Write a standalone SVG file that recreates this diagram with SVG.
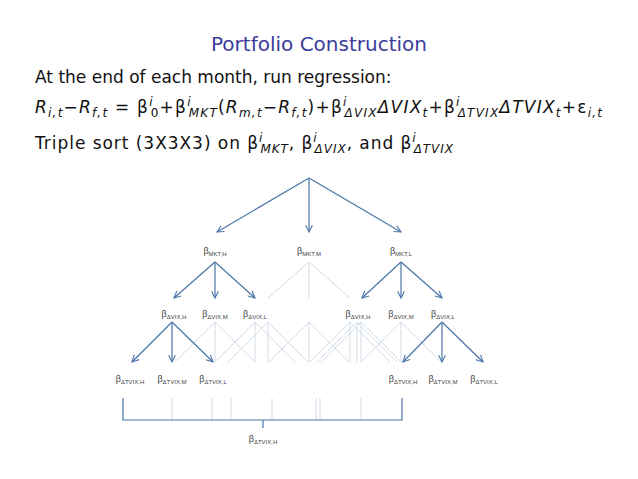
<svg xmlns="http://www.w3.org/2000/svg" width="638" height="479" viewBox="0 0 638 479">
<defs>
<marker id="a" viewBox="0 0 10 10" refX="9" refY="5" markerWidth="7" markerHeight="7" orient="auto"><path d="M1,1 L9,5 L1,9" fill="none" stroke="#4a74a8" stroke-width="1.3"/></marker>
<style>
.t{font-family:"DejaVu Sans",sans-serif;font-size:17px;fill:#111}
.i{font-style:italic}
.u{font-size:12px}
.b{font-family:"Liberation Sans",sans-serif;font-size:9px;fill:#444;text-anchor:middle}
.s{font-size:6px}
.e{stroke:#4a74a8;stroke-width:1.2;fill:none;marker-end:url(#a)}
.f{stroke:#d3dde8;stroke-width:1;fill:none}
</style>
</defs>
<rect width="638" height="479" fill="#fff"/>
<text x="319" y="51" text-anchor="middle" font-family="DejaVu Sans,sans-serif" font-size="20" fill="#3c3c9c">Portfolio Construction</text>
<text class="t" x="35" y="83">At the end of each month, run regression:</text>
<text class="t" x="35" y="113" font-size="18" textLength="567" lengthAdjust="spacing"><tspan class="i">R</tspan><tspan class="i u" dy="4">i,t</tspan><tspan dy="-4">−</tspan><tspan class="i">R</tspan><tspan class="i u" dy="4">f,t</tspan><tspan dy="-4"> = β</tspan><tspan class="i u" dy="-7">i</tspan><tspan class="u" dx="-3" dy="11">0</tspan><tspan dy="-4">+β</tspan><tspan class="i u" dy="-7">i</tspan><tspan class="i u" dx="-3" dy="11">MKT</tspan><tspan dy="-4">(</tspan><tspan class="i">R</tspan><tspan class="i u" dy="4">m,t</tspan><tspan dy="-4">−</tspan><tspan class="i">R</tspan><tspan class="i u" dy="4">f,t</tspan><tspan dy="-4">)+β</tspan><tspan class="i u" dy="-7">i</tspan><tspan class="i u" dx="-3" dy="11">ΔVIX</tspan><tspan class="i" dy="-4">ΔVIX</tspan><tspan class="i u" dy="4">t</tspan><tspan dy="-4">+β</tspan><tspan class="i u" dy="-7">i</tspan><tspan class="i u" dx="-3" dy="11">ΔTVIX</tspan><tspan class="i" dy="-4">ΔTVIX</tspan><tspan class="i u" dy="4">t</tspan><tspan dy="-4">+ε</tspan><tspan class="i u" dy="4">i,t</tspan></text>
<text class="t" x="35" y="149" textLength="418" lengthAdjust="spacing">Triple sort (3X3X3) on β<tspan class="i u" dy="-7">i</tspan><tspan class="i u" dx="-3" dy="11">MKT</tspan><tspan dy="-4">, β</tspan><tspan class="i u" dy="-7">i</tspan><tspan class="i u" dx="-3" dy="11">ΔVIX</tspan><tspan dy="-4">, and β</tspan><tspan class="i u" dy="-7">i</tspan><tspan class="i u" dx="-3" dy="11">ΔTVIX</tspan></text>
<g id="connectors">
<g class="f">
<path d="M309,262 L268,298 M309,262 V298 M309,262 L350,298"/>
<path d="M215,322 L175,362 M215,322 V362 M215,322 L255,362"/>
<path d="M255,322 L215,362 M255,322 V362 M255,322 L295,362"/>
<path d="M268,322 L228,362 M268,322 V362 M268,322 L308,362"/>
<path d="M309,322 L269,362 M309,322 V362 M309,322 L349,362"/>
<path d="M350,322 L310,362 M350,322 V362 M350,322 L390,362"/>
<path d="M357,322 L317,362 M357,322 V362 M357,322 L397,362"/>
<path d="M361,322 L321,362 M361,322 V362 M361,322 L401,362"/>
<path d="M401,322 L361,362 M401,322 V362 M401,322 L441,362"/>
<path d="M172,398 V420 M212,398 V420 M231,398 V420 M272,398 V420 M316,398 V420 M320,398 V420 M361,398 V420"/>
</g>
<path class="e" d="M309,178 L217,232"/><path class="e" d="M309,178 V232"/><path class="e" d="M309,178 L401,232"/>
<path class="e" d="M215,262 L174,298"/><path class="e" d="M215,262 V298"/><path class="e" d="M215,262 L255,298"/>
<path class="e" d="M401,262 L362,298"/><path class="e" d="M401,262 V298"/><path class="e" d="M401,262 L442,298"/>
<path class="e" d="M172,322 L132,362"/><path class="e" d="M172,322 V362"/><path class="e" d="M172,322 L213,362"/>
<path class="e" d="M442,322 L403,362"/><path class="e" d="M442,322 V362"/><path class="e" d="M442,322 L483,362"/>
<path d="M123,398 V420 H402 V398 M263,420 V428" stroke="#4a74a8" stroke-width="1.2" fill="none"/>
</g>
<g id="n-mkt-h"><text class="b" x="215" y="254">β<tspan class="s" dy="2">MKT,H</tspan></text></g>
<g id="n-mkt-m"><text class="b" x="309" y="254">β<tspan class="s" dy="2">MKT,M</tspan></text></g>
<g id="n-mkt-l"><text class="b" x="401" y="254">β<tspan class="s" dy="2">MKT,L</tspan></text></g>
<g id="n-vix-h1"><text class="b" x="174" y="317">β<tspan class="s" dy="2">ΔVIX,H</tspan></text></g>
<g id="n-vix-m1"><text class="b" x="215" y="317">β<tspan class="s" dy="2">ΔVIX,M</tspan></text></g>
<g id="n-vix-l1"><text class="b" x="255" y="317">β<tspan class="s" dy="2">ΔVIX,L</tspan></text></g>
<g id="n-vix-h2"><text class="b" x="358" y="317">β<tspan class="s" dy="2">ΔVIX,H</tspan></text></g>
<g id="n-vix-m2"><text class="b" x="401" y="317">β<tspan class="s" dy="2">ΔVIX,M</tspan></text></g>
<g id="n-vix-l2"><text class="b" x="443" y="317">β<tspan class="s" dy="2">ΔVIX,L</tspan></text></g>
<g id="n-tvix-h1"><text class="b" x="130" y="382">β<tspan class="s" dy="2">ΔTVIX,H</tspan></text></g>
<g id="n-tvix-m1"><text class="b" x="172" y="382">β<tspan class="s" dy="2">ΔTVIX,M</tspan></text></g>
<g id="n-tvix-l1"><text class="b" x="213" y="382">β<tspan class="s" dy="2">ΔTVIX,L</tspan></text></g>
<g id="n-tvix-h2"><text class="b" x="403" y="382">β<tspan class="s" dy="2">ΔTVIX,H</tspan></text></g>
<g id="n-tvix-m2"><text class="b" x="443" y="382">β<tspan class="s" dy="2">ΔTVIX,M</tspan></text></g>
<g id="n-tvix-l2"><text class="b" x="484" y="382">β<tspan class="s" dy="2">ΔTVIX,L</tspan></text></g>
<g id="n-group"><text class="b" x="263" y="442">β<tspan class="s" dy="2">ΔTVIX,H</tspan></text></g>
</svg>
